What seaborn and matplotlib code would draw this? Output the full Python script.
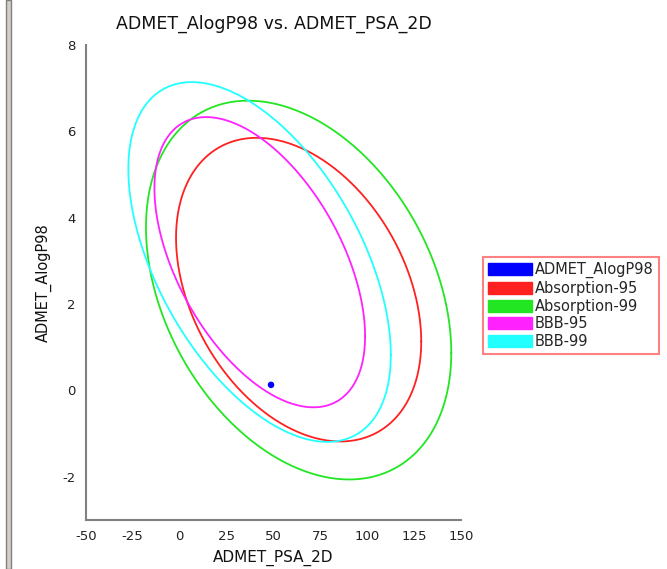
import numpy as np
import pandas as pd
import matplotlib
matplotlib.use("Agg")
import matplotlib.pyplot as plt
import seaborn as sns
from matplotlib.patches import Patch, Rectangle

# ellipse extents (PSA_2D, AlogP98)
regions = ["Absorption-95", "Absorption-99", "BBB-95", "BBB-99"]
x_min = [-1.9, -17.9, -13.4, -27.3]
x_max = [128.7, 144.7, 98.8, 112.5]
y_min = [-1.18, -2.06, -0.39, -1.19]
y_max = [5.85, 6.71, 6.33, 7.14]
x_at_top = [41.1, 36.5, 14.1, 6.5]
colors = ["#ff2020", "#22e622", "#ff22ff", "#22ffff"]

# the single compound
psa = [48.7]
alogp = [0.13]


def ellipse(i, n=400):
    cx = (x_min[i] + x_max[i]) / 2
    rx = (x_max[i] - x_min[i]) / 2
    cy = (y_min[i] + y_max[i]) / 2
    ry = (y_max[i] - y_min[i]) / 2
    phi = np.arccos((x_at_top[i] - cx) / rx)
    t = np.linspace(0, 2 * np.pi, n)
    return cx + rx * np.cos(t), cy + ry * np.cos(t - phi)


frames = []
for i, name in enumerate(regions):
    ex, ey = ellipse(i)
    frames.append(pd.DataFrame({"x": ex, "y": ey, "region": name}))
df = pd.concat(frames, ignore_index=True)

sns.set_style("white")
plt.rcParams["font.family"] = ["DejaVu Sans"]
plt.rcParams["axes.unicode_minus"] = False

fig = plt.figure(figsize=(6.67, 5.69), dpi=100)
ax = fig.add_axes([0.1285, 0.086, 0.563, 0.835])

sns.lineplot(data=df, x="x", y="y", hue="region", palette=colors,
             sort=False, estimator=None, linewidth=1.3, legend=False, ax=ax)
sns.scatterplot(x=psa, y=alogp, color="#0000ff", s=22, edgecolor="none", ax=ax)

ax.set_xlim(-50, 150)
ax.set_ylim(-3, 8)
ax.set_xticks(range(-50, 151, 25))
ax.set_yticks(range(-2, 9, 2))
ax.tick_params(direction="inout", length=7, width=1.2, color="#808080",
               labelsize=9.5, labelcolor="#222222")
for s in ["top", "right"]:
    ax.spines[s].set_visible(False)
for s in ["left", "bottom"]:
    ax.spines[s].set_color("#808080")
    ax.spines[s].set_linewidth(1.5)

ax.set_title("ADMET_AlogP98 vs. ADMET_PSA_2D", fontsize=12.5, pad=12, color="#111111")
ax.set_xlabel("ADMET_PSA_2D", fontsize=11, labelpad=5, color="#111111")
ax.set_ylabel("ADMET_AlogP98", fontsize=10.5, labelpad=8, color="#111111")

handles = [Patch(color="#0000ff", label="ADMET_AlogP98")]
handles += [Patch(color=c, label=n) for c, n in zip(colors, regions)]
leg = fig.legend(handles=handles, loc="upper left", bbox_to_anchor=(0.724, 0.548),
                 fontsize=10.5, frameon=True, fancybox=False, handlelength=3.0,
                 handleheight=0.9, handletextpad=0.2, labelspacing=0.18,
                 borderpad=0.35, borderaxespad=0)
leg.get_frame().set_edgecolor("#ff6060")
leg.get_frame().set_linewidth(1.5)

# window border on the far left
fig.patches.append(Rectangle((6 / 667, 0), 5 / 667, 1, transform=fig.transFigure,
                             facecolor="#d4d0c8", edgecolor="#808080", linewidth=1))

fig.savefig("out.png", dpi=100)
